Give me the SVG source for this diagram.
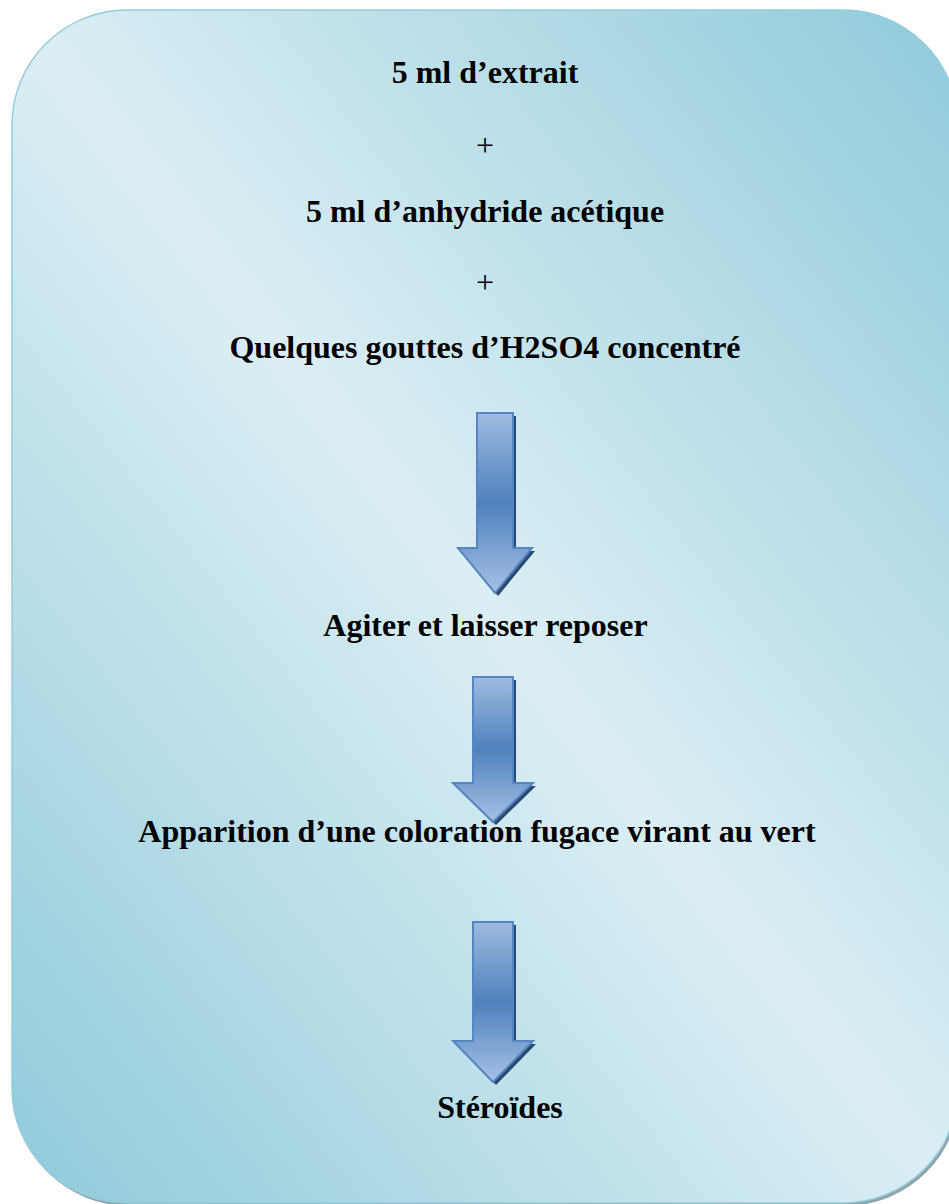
<svg xmlns="http://www.w3.org/2000/svg" width="949" height="1204" viewBox="0 0 949 1204">
<defs>
<linearGradient id="bg" x1="1" y1="0" x2="0" y2="1">
<stop offset="0" stop-color="#8fcada"/>
<stop offset="0.5" stop-color="#dbeef4"/>
<stop offset="1" stop-color="#8fcada"/>
</linearGradient>
<linearGradient id="ag" x1="0" y1="0" x2="0" y2="1">
<stop offset="0" stop-color="#9ebbe0"/>
<stop offset="0.5" stop-color="#4f81bd"/>
<stop offset="1" stop-color="#a6c1e5"/>
</linearGradient>
<style>
.t{font-family:"Liberation Serif","Times New Roman",serif;font-size:32px;font-weight:bold;fill:#000;text-anchor:middle}
.p{font-family:"Liberation Serif","Times New Roman",serif;font-size:32px;fill:#000;text-anchor:middle}
.arr{fill:url(#ag);stroke:#5585c2;stroke-width:2;stroke-linejoin:miter}
.sh{fill:#2a4a72}
</style>
</defs>
<g id="box">
<rect x="14" y="13" width="946" height="1193" rx="115" ry="115" fill="#8fa3ab"/>
<rect x="12" y="10" width="946" height="1193" rx="115" ry="115" fill="url(#bg)" stroke="#93cddd" stroke-width="1.5"/>
</g>
<g id="texts">
<text class="t" x="485" y="83">5 ml d’extrait</text>
<text class="p" x="485" y="156">+</text>
<text class="t" x="485" y="222">5 ml d’anhydride acétique</text>
<text class="p" x="485" y="293">+</text>
<text class="t" x="485" y="358">Quelques gouttes d’H2SO4 concentré</text>
<text class="t" x="485.5" y="636">Agiter et laisser reposer</text>
<text class="t" x="477" y="842">Apparition d’une coloration fugace virant au vert</text>
<text class="t" x="500" y="1118">Stéroïdes</text>
</g>
<g id="connectors">
<g id="arrow1">
<path class="sh" d="M480,416 H516 V551 H535 L498,596 L461,551 H480 Z"/>
<path class="arr" d="M477,413 H513 V548 H532 L495,593 L458,548 H477 Z"/>
</g>
<g id="arrow2">
<path class="sh" d="M476,680 H516 V786 H536 L496,825 L456,786 H476 Z"/>
<path class="arr" d="M473,677 H513 V783 H533 L493,822 L453,783 H473 Z"/>
</g>
<g id="arrow3">
<path class="sh" d="M476,925 H516 V1044 H536 L496,1085 L456,1044 H476 Z"/>
<path class="arr" d="M473,922 H513 V1041 H533 L493,1082 L453,1041 H473 Z"/>
</g>
</g>
</svg>
